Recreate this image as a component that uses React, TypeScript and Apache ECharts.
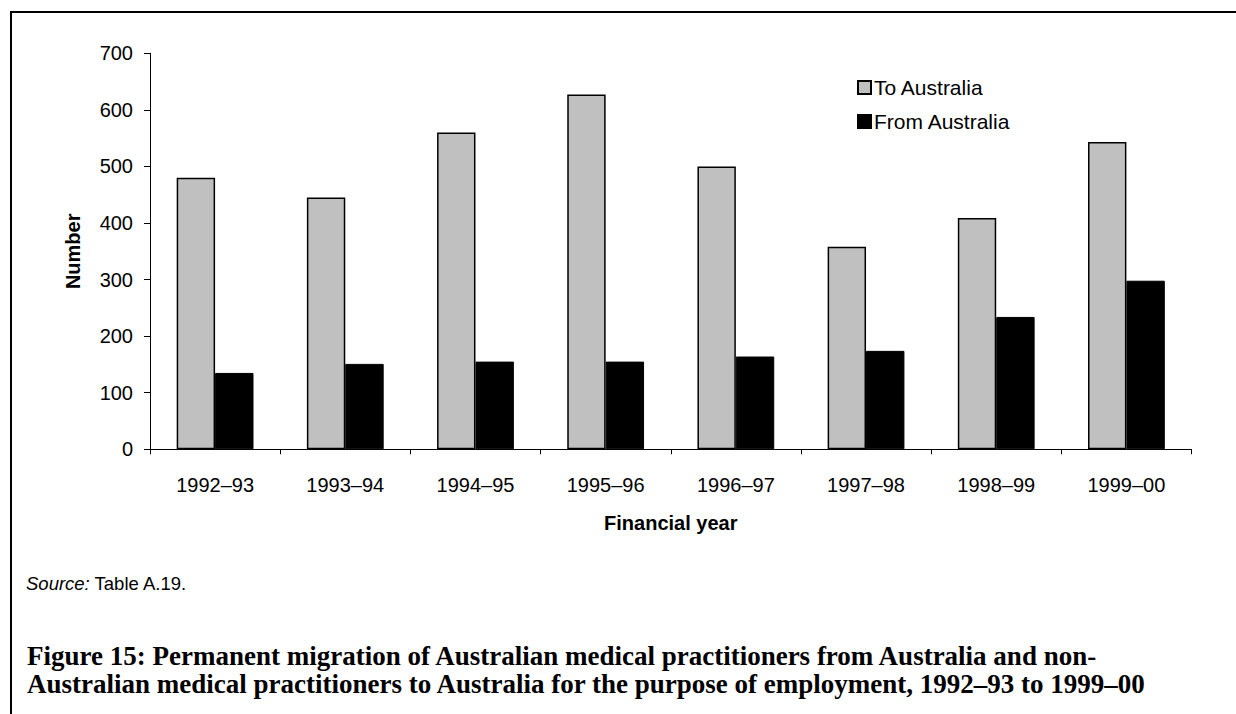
import React, { useEffect, useRef } from "react";
import * as echarts from "echarts";

const categories = ["1992–93", "1993–94", "1994–95", "1995–96", "1996–97", "1997–98", "1998–99", "1999–00"];
const toAustralia = [480, 445, 560, 627, 500, 358, 409, 543];
const fromAustralia = [135, 151, 155, 155, 164, 174, 234, 298];
const yTicks = { min: 0, max: 700, interval: 100 };
const sourceText = "{i|Source:} Table A.19.";
const captionLines = [
  "Figure 15: Permanent migration of Australian medical practitioners from Australia and non-",
  "Australian medical practitioners to Australia for the purpose of employment, 1992–93 to 1999–00",
];

const SANS = "Arial, 'Liberation Sans', sans-serif";
const SERIF = "'Liberation Serif', 'Times New Roman', serif";

export default function App() {
  const ref = useRef<HTMLDivElement>(null);
  useEffect(() => {
    if (!ref.current) return;
    const chart = echarts.init(ref.current, undefined, { renderer: "svg" });
    chart.setOption({
      animation: false,
      backgroundColor: "#ffffff",
      grid: { left: 150, right: 44.5, top: 53.3, bottom: 264.7, containLabel: false },
      legend: {
        orient: "vertical",
        left: 852,
        top: 72,
        icon: "rect",
        itemWidth: 13,
        itemHeight: 13,
        itemGap: 13,
        textStyle: { fontFamily: SANS, fontSize: 21, color: "#000", padding: [0, 0, 0, -2] },
        data: ["To Australia", "From Australia"],
      },
      xAxis: {
        type: "category",
        data: categories,
        name: "Financial year",
        nameLocation: "middle",
        nameGap: 64,
        nameTextStyle: { fontFamily: SANS, fontSize: 20, fontWeight: "bold", color: "#000" },
        axisLine: { lineStyle: { color: "#000", width: 1 } },
        axisTick: { show: true, length: 5, inside: false, lineStyle: { color: "#000" } },
        axisLabel: { fontFamily: SANS, fontSize: 20, color: "#000", margin: 26 },
        splitLine: { show: false },
      },
      yAxis: {
        type: "value",
        min: yTicks.min,
        max: yTicks.max,
        interval: yTicks.interval,
        name: "Number",
        nameLocation: "middle",
        nameGap: 67,
        nameRotate: 90,
        nameTextStyle: { fontFamily: SANS, fontSize: 20, fontWeight: "bold", color: "#000" },
        axisLine: { show: true, lineStyle: { color: "#000", width: 1 } },
        axisTick: { show: true, length: 6, lineStyle: { color: "#000" } },
        axisLabel: { fontFamily: SANS, fontSize: 20, color: "#000", margin: 17 },
        splitLine: { show: false },
      },
      series: [
        {
          name: "To Australia",
          type: "bar",
          data: toAustralia,
          barGap: "0%",
          barCategoryGap: "41%",
          itemStyle: { color: "#c0c0c0", borderColor: "#000", borderWidth: 1.5 },
        },
        {
          name: "From Australia",
          type: "bar",
          data: fromAustralia,
          barGap: "0%",
          barCategoryGap: "41%",
          itemStyle: { color: "#000", borderColor: "#000", borderWidth: 1 },
        },
      ],
      graphic: [
        {
          type: "line",
          shape: { x1: 10, y1: 12, x2: 1236, y2: 12 },
          style: { stroke: "#000", lineWidth: 2 },
        },
        {
          type: "line",
          shape: { x1: 11, y1: 11, x2: 11, y2: 714 },
          style: { stroke: "#000", lineWidth: 2 },
        },
        {
          type: "text",
          x: 26,
          y: 583,
          style: {
            text: sourceText,
            fontFamily: SANS,
            fontSize: 18.5,
            fill: "#000",
            verticalAlign: "middle",
            rich: { i: { fontStyle: "italic", fontFamily: SANS, fontSize: 18.5, fill: "#000" } },
          },
        },
        {
          type: "text",
          x: 27,
          y: 656,
          style: {
            text: captionLines[0],
            fontFamily: SERIF,
            fontSize: 27,
            fontWeight: "bold",
            fill: "#000",
            verticalAlign: "middle",
          },
        },
        {
          type: "text",
          x: 27,
          y: 684,
          style: {
            text: captionLines[1],
            fontFamily: SERIF,
            fontSize: 27,
            fontWeight: "bold",
            fill: "#000",
            verticalAlign: "middle",
          },
        },
      ],
    });
    return () => chart.dispose();
  }, []);
  return (
    <div
      ref={ref}
      style={{ position: "absolute", left: 0, top: 0, width: 1236, height: 714, background: "#fff" }}
    />
  );
}
